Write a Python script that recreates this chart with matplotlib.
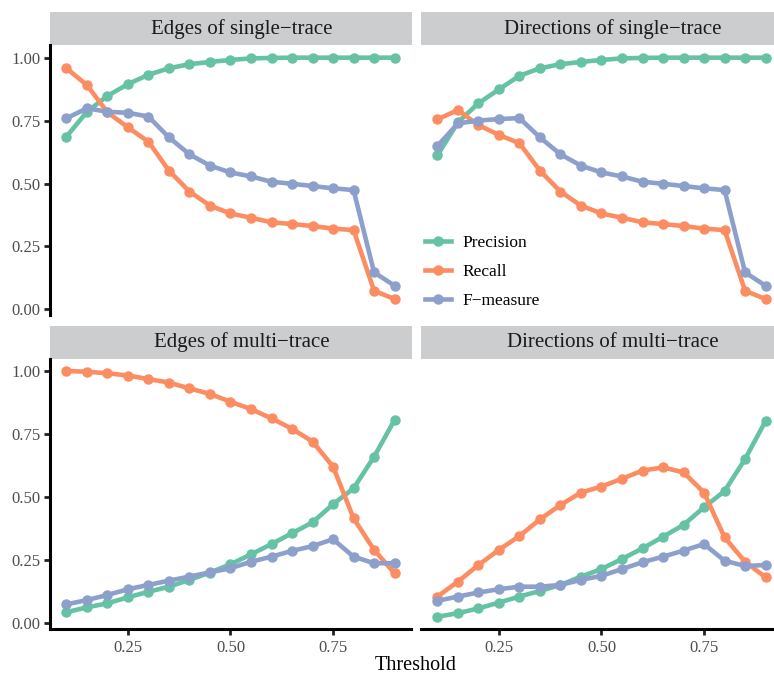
import numpy as np
import matplotlib
matplotlib.use("Agg")
import matplotlib.pyplot as plt
from matplotlib.patches import Rectangle
from matplotlib.lines import Line2D

plt.rcParams['font.family'] = ['Liberation Serif', 'DejaVu Serif']

# thresholds 0.10 .. 0.90
threshold = [0.10, 0.15, 0.20, 0.25, 0.30, 0.35, 0.40, 0.45, 0.50,
             0.55, 0.60, 0.65, 0.70, 0.75, 0.80, 0.85, 0.90]

panel_titles = ["Edges of single\u2212trace", "Directions of single\u2212trace",
                "Edges of multi\u2212trace", "Directions of multi\u2212trace"]
metric_names = ["Precision", "Recall", "F\u2212measure"]

# Edges of single-trace
edge_single_precision = [0.686, 0.785, 0.848, 0.895, 0.932, 0.958, 0.974, 0.983, 0.991,
                         0.997, 0.999, 1.0, 1.0, 1.0, 1.0, 1.0, 1.0]
edge_single_recall = [0.958, 0.891, 0.783, 0.723, 0.666, 0.551, 0.468, 0.412, 0.381,
                      0.364, 0.346, 0.339, 0.331, 0.321, 0.315, 0.074, 0.041]
edge_single_fmeasure = [0.759, 0.799, 0.785, 0.781, 0.766, 0.683, 0.616, 0.571, 0.544,
                        0.528, 0.507, 0.499, 0.490, 0.481, 0.474, 0.147, 0.094]

# Directions of single-trace
dir_single_precision = [0.612, 0.743, 0.819, 0.874, 0.928, 0.958, 0.974, 0.983, 0.991,
                        0.997, 0.999, 1.0, 1.0, 1.0, 1.0, 1.0, 1.0]
dir_single_recall = [0.755, 0.792, 0.732, 0.693, 0.660, 0.551, 0.468, 0.412, 0.381,
                     0.364, 0.346, 0.339, 0.331, 0.321, 0.315, 0.074, 0.041]
dir_single_fmeasure = [0.649, 0.739, 0.750, 0.756, 0.760, 0.683, 0.616, 0.571, 0.544,
                       0.528, 0.507, 0.499, 0.490, 0.481, 0.474, 0.147, 0.094]

# Edges of multi-trace
edge_multi_precision = [0.044, 0.063, 0.079, 0.103, 0.125, 0.145, 0.172, 0.201, 0.234,
                        0.273, 0.314, 0.357, 0.400, 0.472, 0.535, 0.660, 0.806]
edge_multi_recall = [1.0, 0.997, 0.991, 0.982, 0.968, 0.954, 0.931, 0.909, 0.878,
                     0.849, 0.812, 0.771, 0.720, 0.621, 0.416, 0.291, 0.198]
edge_multi_fmeasure = [0.075, 0.092, 0.112, 0.135, 0.152, 0.169, 0.185, 0.202, 0.218,
                       0.244, 0.264, 0.287, 0.306, 0.333, 0.264, 0.238, 0.238]

# Directions of multi-trace
dir_multi_precision = [0.026, 0.040, 0.059, 0.082, 0.106, 0.128, 0.152, 0.185, 0.215,
                       0.255, 0.297, 0.343, 0.390, 0.460, 0.524, 0.651, 0.802]
dir_multi_recall = [0.106, 0.165, 0.231, 0.291, 0.346, 0.412, 0.469, 0.518, 0.542,
                    0.573, 0.605, 0.618, 0.598, 0.518, 0.340, 0.244, 0.182]
dir_multi_fmeasure = [0.089, 0.106, 0.122, 0.135, 0.145, 0.145, 0.152, 0.172, 0.188,
                      0.215, 0.242, 0.264, 0.288, 0.314, 0.248, 0.227, 0.231]

panels = [
    [edge_single_precision, edge_single_recall, edge_single_fmeasure],
    [dir_single_precision, dir_single_recall, dir_single_fmeasure],
    [edge_multi_precision, edge_multi_recall, edge_multi_fmeasure],
    [dir_multi_precision, dir_multi_recall, dir_multi_fmeasure],
]
colors = ["#66C2A5", "#FC8D62", "#8DA0CB"]

W, H = 774, 675
fig = plt.figure(figsize=(W / 100, H / 100), dpi=100)

# shared scales with ggplot-like 5% expansion
all_y = np.concatenate([np.array(s) for p in panels for s in p])
ypad = 0.05 * (all_y.max() - all_y.min())
ylim = (all_y.min() - ypad, all_y.max() + ypad)
xpad = 0.05 * (max(threshold) - min(threshold))
xlim = (min(threshold) - xpad, max(threshold) + xpad)

# panel boxes in pixels: left, top, right, bottom
boxes = [(50, 45.4, 411, 315.1), (421, 45.4, 782, 315.1),
         (50, 358.7, 411, 629), (421, 358.7, 782, 629)]
strip_h = 33

for i, (l, t, r, b) in enumerate(boxes):
    ax = fig.add_axes([l / W, 1 - b / H, (r - l) / W, (b - t) / H])
    for vals, c in zip(panels[i], colors):
        ax.plot(threshold, vals, color=c, lw=3.3, marker='o', ms=6.5,
                solid_capstyle='butt', clip_on=False)
    ax.set_xlim(xlim)
    ax.set_ylim(ylim)
    ax.set_xticks([0.25, 0.50, 0.75])
    ax.set_yticks([0.0, 0.25, 0.5, 0.75, 1.0])
    ax.set_xticklabels(["0.25", "0.50", "0.75"])
    ax.set_yticklabels(["0.00", "0.25", "0.50", "0.75", "1.00"])
    for s in ['top', 'right']:
        ax.spines[s].set_visible(False)
    left_col = i % 2 == 0
    bottom_row = i >= 2
    ax.spines['left'].set_visible(left_col)
    ax.spines['bottom'].set_visible(bottom_row)
    ax.spines['left'].set_linewidth(2.2)
    ax.spines['bottom'].set_linewidth(2.2)
    ax.tick_params(axis='both', colors='#222222', labelcolor='#4D4D4D',
                   labelsize=12, length=4, width=2, pad=3)
    ax.tick_params(axis='y', left=left_col, labelleft=left_col)
    ax.tick_params(axis='x', bottom=bottom_row, labelbottom=bottom_row, pad=4)
    # strip
    sh = strip_h / (b - t)
    ax.add_patch(Rectangle((0, 1), 1.003, sh, transform=ax.transAxes,
                           facecolor='#CCCDCF', edgecolor='none', clip_on=False))
    ax.text(0.53, 1 + sh / 2, panel_titles[i], transform=ax.transAxes,
            ha='center', va='center', fontsize=15, color='#1A1A1A')

fig.text(416 / W, 1 - 666 / H, "Threshold", ha='center', va='center', fontsize=14.5)

handles = [Line2D([], [], color=c, lw=3.3, marker='o', ms=6.5) for c in colors]
fig.legend(handles, metric_names, loc='center left',
           bbox_to_anchor=(409 / W, 1 - 272 / H), frameon=False,
           fontsize=12.5, handlelength=1.5, handletextpad=0.7, labelspacing=0.75)

fig.savefig("out.png", dpi=100)
